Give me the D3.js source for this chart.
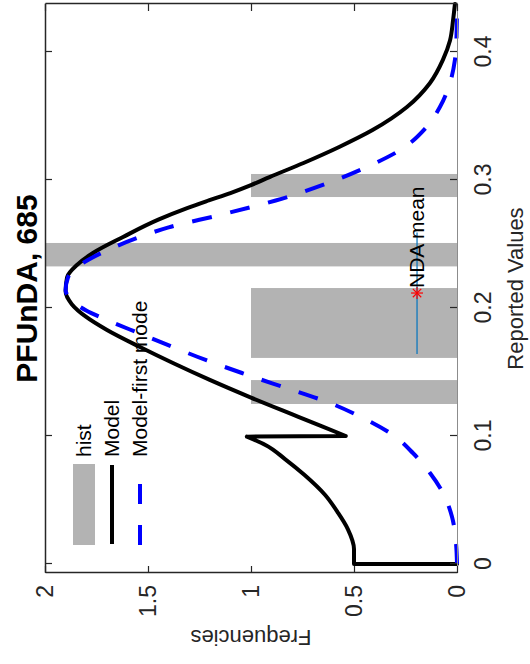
<!DOCTYPE html>
<html>
<head>
<meta charset="utf-8">
<script src="https://cdn.jsdelivr.net/npm/d3@7"></script>
<style>
  body { margin: 0; background: #fff; }
  text { font-family: "Liberation Sans", Arial, sans-serif; fill: #000; }
</style>
</head>
<body>
<div id="chart"></div>
<script>
// Data
var xTicks = [0, 0.1, 0.2, 0.3, 0.4];
var xTickLabels = ["0", "0.1", "0.2", "0.3", "0.4"];
var yTicks = [0, 0.5, 1, 1.5, 2];
var yTickLabels = ["0", "0.5", "1", "1.5", "2"];

// histogram bins (reported values) and their heights
var binStart = [0.125, 0.161, 0.2325, 0.2867];
var binEnd = [0.1437, 0.2156, 0.2508, 0.3047];
var binHeight = [1, 1, 2, 1];

// Model curve
var modelX = [0, 0, 0.0117, 0.0273, 0.0406, 0.0539, 0.0695, 0.082, 0.093, 0.0995,
  0.1, 0.115, 0.13, 0.1438, 0.157, 0.1695, 0.1828, 0.193, 0.203, 0.213, 0.224,
  0.2336, 0.243, 0.2555, 0.269, 0.278, 0.284, 0.2898, 0.296, 0.3023, 0.3133, 0.3258,
  0.339, 0.357, 0.3758, 0.394, 0.409, 0.425, 0.4375];
var modelY = [0, 0.5, 0.5, 0.53, 0.58, 0.64, 0.74, 0.835, 0.93, 1.02,
  0.54, 0.77, 1.0, 1.2, 1.379, 1.539, 1.699, 1.8, 1.87, 1.9, 1.893,
  1.845, 1.767, 1.621, 1.45, 1.31, 1.205, 1.1, 1.0, 0.91, 0.745, 0.572,
  0.41, 0.243, 0.131, 0.068, 0.034, 0.019, 0.01];

// Model-first mode curve
var firstX = [0, 0.0164, 0.0367, 0.0555, 0.0711, 0.0867, 0.1008, 0.114, 0.1266, 0.1383,
  0.149, 0.159, 0.1695, 0.18, 0.1906, 0.198, 0.206, 0.214, 0.224, 0.2336,
  0.245, 0.2555, 0.263, 0.2727, 0.284, 0.298, 0.31, 0.323, 0.341, 0.357,
  0.376, 0.394, 0.409, 0.4375];
var firstY = [0, 0.005, 0.024, 0.068, 0.131, 0.214, 0.311, 0.456, 0.63, 0.845,
  1.04, 1.214, 1.379, 1.539, 1.699, 1.8, 1.87, 1.9, 1.888, 1.83,
  1.699, 1.539, 1.4, 1.15, 0.88, 0.62, 0.44, 0.28, 0.15, 0.083,
  0.034, 0.01, 0.003, 0];

// NDA mean marker
var ndaMean = 0.2117;
var ndaLo = 0.164;
var ndaHi = 0.259;
var ndaLevel = 0.194;

var legendLabels = ["hist", "Model", "Model-first mode"];

// Layout: the chart is drawn in its own frame, then turned 90 degrees
var W = 569, H = 412;
var svg = d3.select("#chart").append("svg")
  .attr("width", 530).attr("height", 664);

var g = svg.append("g")
  .attr("transform", "translate(45,573) rotate(-90)");

var x = d3.scaleLinear().domain([-0.00703, 0.4375]).range([0, W]);
var y = d3.scaleLinear().domain([0, 2]).range([H, 0]);

// histogram bars
g.selectAll("rect.bar")
  .data(binStart)
  .enter().append("rect")
  .attr("class", "bar")
  .attr("x", function (d) { return x(d); })
  .attr("width", function (d, i) { return x(binEnd[i]) - x(d); })
  .attr("y", function (d, i) { return y(binHeight[i]); })
  .attr("height", function (d, i) { return y(0) - y(binHeight[i]); })
  .style("fill", "#b3b3b3");

// smooth runs, straight jumps where x barely moves
var smooth = d3.line()
  .x(function (d) { return x(d[0]); })
  .y(function (d) { return y(d[1]); })
  .curve(d3.curveMonotoneX);
var straight = d3.line()
  .x(function (d) { return x(d[0]); })
  .y(function (d) { return y(d[1]); });

function curvePath(xs, ys) {
  var pts = d3.zip(xs, ys);
  var runs = [[pts[0]]];
  var d = "";
  for (var i = 1; i < pts.length; i++) {
    if (pts[i][0] - pts[i - 1][0] < 0.001) {
      d += straight([pts[i - 1], pts[i]]);
      runs.push([pts[i]]);
    } else {
      runs[runs.length - 1].push(pts[i]);
    }
  }
  runs.forEach(function (r) { if (r.length > 1) d += smooth(r); });
  return d;
}

g.append("path")
  .attr("d", curvePath(modelX, modelY))
  .style("fill", "none")
  .style("stroke", "#000")
  .style("stroke-width", 4)
  .style("stroke-linecap", "round")
  .style("stroke-linejoin", "round");

g.append("path")
  .attr("d", curvePath(firstX, firstY))
  .style("fill", "none")
  .style("stroke", "#0000ff")
  .style("stroke-width", 4)
  .style("stroke-dasharray", "20,19");

// NDA mean
g.append("line")
  .attr("x1", x(ndaLo)).attr("x2", x(ndaHi))
  .attr("y1", y(ndaLevel)).attr("y2", y(ndaLevel))
  .style("stroke", "#0072bd")
  .style("stroke-width", 1.2);

var sx = x(ndaMean), sy = y(ndaLevel), r = 6;
var star = g.append("g").style("stroke", "#ff0000").style("stroke-width", 1.2);
[[r, 0], [0, r], [r * 0.7, r * 0.7], [r * 0.7, -r * 0.7]].forEach(function (p) {
  star.append("line")
    .attr("x1", sx - p[0]).attr("y1", sy - p[1])
    .attr("x2", sx + p[0]).attr("y2", sy + p[1]);
});

g.append("text")
  .attr("x", sx + 5).attr("y", sy)
  .attr("dy", "0.35em")
  .style("font-size", "21px")
  .text("NDA mean");

// Axes
var xAxis = g.append("g")
  .attr("transform", "translate(0," + H + ")")
  .call(d3.axisBottom(x).tickValues(xTicks)
    .tickFormat(function (d, i) { return xTickLabels[i]; })
    .tickSizeInner(-7).tickSizeOuter(0).tickPadding(18));

var yAxis = g.append("g")
  .call(d3.axisLeft(y).tickValues(yTicks)
    .tickFormat(function (d, i) { return yTickLabels[i]; })
    .tickSizeInner(-7).tickSizeOuter(0).tickPadding(12));

g.append("g")
  .call(d3.axisTop(x).tickValues(xTicks).tickFormat("")
    .tickSizeInner(-7).tickSizeOuter(0));

g.append("g")
  .attr("transform", "translate(" + W + ",0)")
  .call(d3.axisRight(y).tickValues(yTicks).tickFormat("")
    .tickSizeInner(-7).tickSizeOuter(0));

g.selectAll(".domain").style("stroke", "#262626").style("stroke-width", 1.5);
g.selectAll(".tick line").style("stroke", "#262626").style("stroke-width", 1.2);
g.selectAll(".tick text")
  .style("font-size", "23px")
  .style("font-family", "'Liberation Sans', Arial, sans-serif")
  .style("fill", "#262626");
xAxis.select(".domain").style("stroke", "#8c8c8c").style("stroke-width", 1);

// labels
g.append("text")
  .attr("x", W / 2).attr("y", H + 66)
  .attr("text-anchor", "middle")
  .style("font-size", "22px")
  .style("fill", "#262626")
  .text("Reported Values");

g.append("text")
  .attr("transform", "translate(-57," + (H / 2) + ") rotate(-90)")
  .attr("text-anchor", "middle")
  .style("font-size", "22px")
  .style("fill", "#262626")
  .text("Frequencies");

g.append("text")
  .attr("x", W / 2).attr("y", -8)
  .attr("text-anchor", "middle")
  .style("font-size", "30px")
  .style("font-weight", "bold")
  .text("PFUnDA, 685");

// Legend
var leg = g.append("g");
leg.append("rect")
  .attr("x", 28).attr("y", 28).attr("width", 81).attr("height", 22)
  .style("fill", "#b3b3b3");
leg.append("line")
  .attr("x1", 29).attr("x2", 108).attr("y1", 67).attr("y2", 67)
  .style("stroke", "#000").style("stroke-width", 4);
leg.append("line")
  .attr("x1", 28).attr("x2", 89).attr("y1", 95).attr("y2", 95)
  .style("stroke", "#0000ff").style("stroke-width", 4)
  .style("stroke-dasharray", "20,21");
leg.selectAll("text.leg")
  .data(legendLabels)
  .enter().append("text")
  .attr("class", "leg")
  .attr("x", 116)
  .attr("y", function (d, i) { return [39, 67, 95][i]; })
  .attr("dy", "0.35em")
  .style("font-size", "21px")
  .text(function (d) { return d; });
</script>
</body>
</html>
